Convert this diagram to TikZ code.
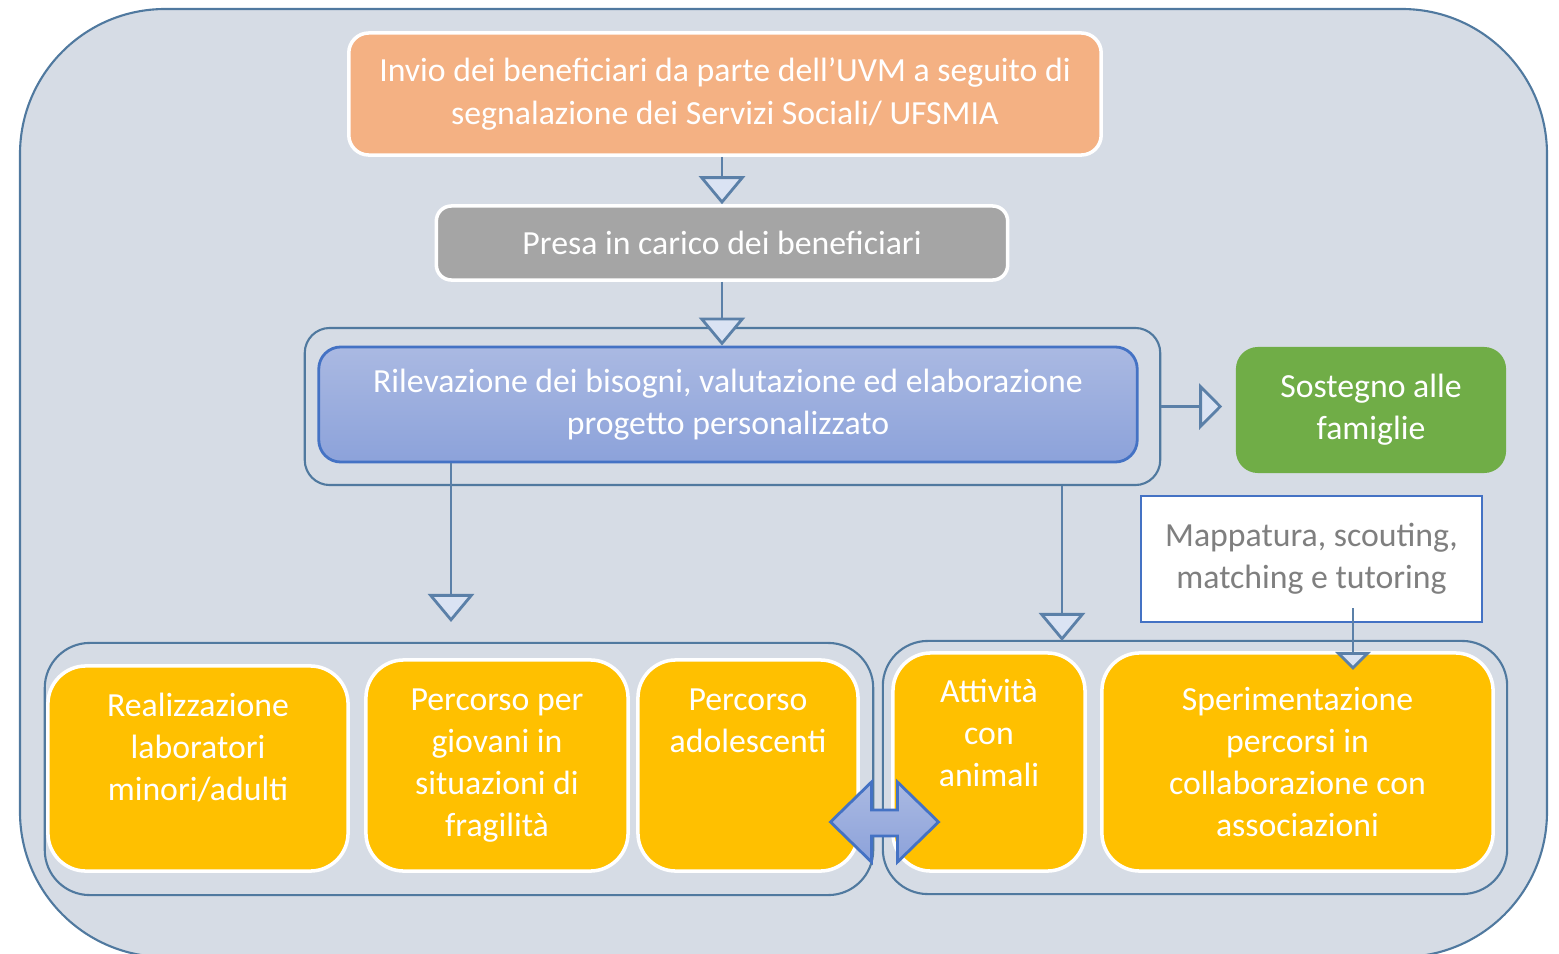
\documentclass[tikz,border=0pt]{standalone}
\usepackage{fontspec}
\setmainfont{Carlito}
\usepackage{tikz}
\usetikzlibrary{arrows.meta,calc}
\definecolor{pannello}{HTML}{D6DCE5}
\definecolor{cornice}{HTML}{50799F}
\definecolor{linea}{HTML}{5B80A8}
\definecolor{punta}{HTML}{DAE3F3}
\definecolor{salmone}{HTML}{F4B183}
\definecolor{grigio}{HTML}{A5A5A5}
\definecolor{verde}{HTML}{70AD47}
\definecolor{ambra}{HTML}{FFC000}
\definecolor{accento}{HTML}{4472C4}
\definecolor{bluchiaro}{HTML}{AAB9E2}
\definecolor{bluscuro}{HTML}{8CA2DA}
\definecolor{testogrigio}{HTML}{7F7F7F}

\begin{document}
\begin{tikzpicture}[x=0.01cm, y=-0.01cm,
	every node/.style={font=\fontsize{9.6}{12}\selectfont, align=center, text=white, inner sep=0pt},
	cornicetta/.style={draw=cornice, line width=0.6pt, rounded corners=#1},
	scheda/.style={draw=white, line width=1pt, rounded corners=#1},
	gialla/.style={scheda=0.38cm, fill=ambra},
	alza/.style={text depth=#1},
	flusso/.style={draw=linea, line width=0.8pt, -{Triangle[fill=punta, width=0.46cm, length=0.28cm]}},
	flussino/.style={draw=linea, line width=0.8pt, -{Triangle[fill=punta, width=0.35cm, length=0.18cm]}}]
	\useasboundingbox (0,0) rectangle (1559,954);
	\draw[cornicetta=1.45cm, fill=pannello] (20,9) rectangle (1547,957);

	\node[scheda=0.2cm, fill=salmone, minimum width=7.52cm, minimum height=1.22cm] (invio) at (725,94) {Invio dei beneficiari da parte dell’UVM a seguito di\\segnalazione dei Servizi Sociali/ UFSMIA};
	\node[scheda=0.15cm, fill=grigio, minimum width=5.71cm, minimum height=0.74cm] (presa) at (722,243) {Presa in carico dei beneficiari};
	\node[cornicetta=0.25cm, minimum width=8.55cm, minimum height=1.57cm] (rilcornice) at (732.5,406.5) {};
	\node[draw=accento, line width=0.8pt, rounded corners=0.22cm, top color=bluchiaro, bottom color=bluscuro, minimum width=8.18cm, minimum height=1.15cm] (rilev) at (728,404.5) {Rilevazione dei bisogni, valutazione ed elaborazione\\progetto personalizzato};
	\node[fill=verde, rounded corners=0.22cm, minimum width=2.70cm, minimum height=1.26cm] (sostegno) at (1371,410) {Sostegno alle\\famiglie};
	\node[draw=accento, line width=0.6pt, fill=white, text=testogrigio, minimum width=3.41cm, minimum height=1.26cm] (mappa) at (1311.5,559) {Mappatura, scouting,\\matching e tutoring};

	\node[cornicetta=0.45cm, minimum width=8.28cm, minimum height=2.52cm] (gruppoA) at (459,769) {};
	\node[cornicetta=0.45cm, minimum width=6.24cm, minimum height=2.53cm] (gruppoB) at (1195,767.5) {};
	\node[gialla, alza=12.5pt, minimum width=3.00cm, minimum height=2.05cm] (lab) at (198,768.5) {Realizzazione\\laboratori\\minori/adulti};
	\node[gialla, minimum width=2.62cm, minimum height=2.11cm] (giovani) at (497,765.5) {Percorso per\\giovani in\\situazioni di\\fragilità};
	\node[gialla, alza=25.6pt, minimum width=2.20cm, minimum height=2.11cm] (adol) at (748,765.5) {Percorso\\adolescenti};
	\node[gialla, alza=16.5pt, minimum width=1.92cm, minimum height=2.18cm] (animali) at (989,762) {Attività\\con\\animali};
	\node[gialla, minimum width=3.91cm, minimum height=2.18cm] (sperim) at (1297.5,762) {Sperimentazione\\percorsi in\\collaborazione con\\associazioni};

	\coordinate (puntaA) at (451,622);
	\coordinate (puntaB) at (1062,641);
	\coordinate (puntaC) at (1353,670);
	\draw[flusso] (invio.south -| presa.north) -- (presa.north);
	\draw[flusso] (presa.south) -- (presa.south |- rilev.north);
	\draw[flusso, -{Triangle[fill=punta, width=0.46cm, length=0.23cm]}, shorten >=0.13cm] (rilcornice.east) -- (rilcornice.east -| sostegno.west);
	\draw[flusso] (rilev.south -| puntaA) -- (puntaA);
	\draw[flusso] (rilcornice.south -| puntaB) -- (puntaB);
	\draw[flussino] ($(mappa.south -| puntaC) + (0,-15)$) -- (puntaC);

	\draw[draw=accento, line width=0.8pt, top color=bluchiaro, bottom color=bluscuro, shift={(884.5,822)}]
		(-54,0) -- (-13,-40) -- (-13,-12) -- (13,-12) -- (13,-40) -- (54,0)
		-- (13,40) -- (13,14) -- (-13,14) -- (-13,40) -- cycle;
\end{tikzpicture}
\end{document}
